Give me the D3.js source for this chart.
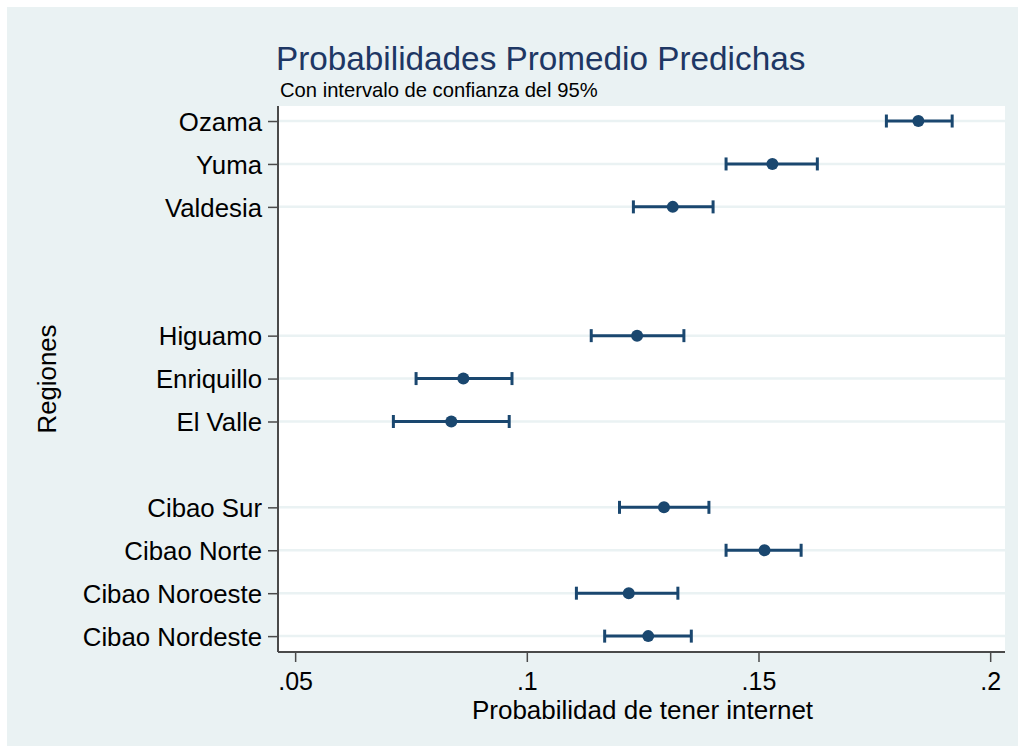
<!DOCTYPE html>
<html>
<head>
<meta charset="utf-8">
<script src="https://cdn.jsdelivr.net/npm/d3@7"></script>
<style>
  html, body { margin: 0; padding: 0; background: #ffffff; }
  svg { display: block; }
  text { font-family: "Liberation Sans", Arial, sans-serif; }
</style>
</head>
<body>
<svg id="chart" width="1018" height="746"></svg>
<script>
// Regions, their row codes on the y axis (gaps separate the macro-regions)
const regions  = ["Ozama", "Yuma", "Valdesia", "Higuamo", "Enriquillo", "El Valle",
                  "Cibao Sur", "Cibao Norte", "Cibao Noroeste", "Cibao Nordeste"];
const rowCodes = [1, 2, 3, 6, 7, 8, 10, 11, 12, 13];

// Average predicted probability and 95% confidence bounds
const margin   = [0.1845, 0.1530, 0.1315, 0.1238, 0.0863, 0.0837, 0.1296, 0.1513, 0.1220, 0.1262];
const ciLow    = [0.1776, 0.1430, 0.1230, 0.1139, 0.0761, 0.0712, 0.1200, 0.1430, 0.1107, 0.1168];
const ciHigh   = [0.1918, 0.1627, 0.1402, 0.1339, 0.0968, 0.0962, 0.1393, 0.1592, 0.1326, 0.1355];

const xTicks      = [0.05, 0.10, 0.15, 0.20];
const xTickLabels = [".05", ".1", ".15", ".2"];

const titleText    = "Probabilidades Promedio Predichas";
const subtitleText = "Con intervalo de confianza del 95%";
const xTitle       = "Probabilidad de tener internet";
const yTitle       = "Regiones";

const rows = regions.map((r, i) => ({
  region: r, code: rowCodes[i], est: margin[i], lo: ciLow[i], hi: ciHigh[i]
}));

const svg = d3.select("#chart");
const W = 1018, H = 746;
const plot = { left: 278, right: 1005, top: 106, bottom: 652 };

const navy = "#1a476f";
const bg   = "#eaf2f3";
const axisCol = "#4a4a4a";

// Graph background
svg.append("rect").attr("x", 7).attr("y", 7).attr("width", W - 7).attr("height", H - 7).attr("fill", bg);
// Plot region
svg.append("rect")
  .attr("x", plot.left).attr("y", plot.top)
  .attr("width", plot.right - plot.left).attr("height", plot.bottom - plot.top)
  .attr("fill", "#ffffff");

const x = d3.scaleLinear().domain([0.0463, 0.2032]).range([plot.left, plot.right]);
const y = d3.scaleLinear().domain([0.65, 13.37]).range([plot.top, plot.bottom]);

// Horizontal grid lines at each region row
svg.append("g").selectAll("line").data(rows).join("line")
  .attr("x1", plot.left).attr("x2", plot.right)
  .attr("y1", d => y(d.code)).attr("y2", d => y(d.code))
  .attr("stroke", bg).attr("stroke-width", 2.5);

// X axis
const xAxis = d3.axisBottom(x)
  .tickValues(xTicks)
  .tickFormat((d, i) => xTickLabels[i])
  .tickSize(10).tickSizeOuter(0).tickPadding(8);
const gx = svg.append("g").attr("transform", `translate(0,${plot.bottom})`).call(xAxis);
gx.select(".domain").attr("stroke", axisCol).attr("stroke-width", 2)
  .attr("d", `M${plot.left},0H${plot.right}`);
gx.selectAll(".tick line").attr("stroke", axisCol).attr("stroke-width", 1.5);
gx.selectAll(".tick text")
  .attr("font-size", 25).attr("fill", "#000")
  .attr("font-family", "'Liberation Sans', Arial, sans-serif")
  .attr("dy", null).attr("y", 38);

// Y axis with region labels
const yAxis = d3.axisLeft(y)
  .tickValues(rowCodes)
  .tickFormat((d, i) => regions[i])
  .tickSize(10).tickSizeOuter(0).tickPadding(6);
const gy = svg.append("g").attr("transform", `translate(${plot.left},0)`).call(yAxis);
gy.select(".domain").attr("stroke", axisCol).attr("stroke-width", 2)
  .attr("d", `M0,${plot.top}V${plot.bottom}`);
gy.selectAll(".tick line").attr("stroke", axisCol).attr("stroke-width", 1.5);
gy.selectAll(".tick text")
  .attr("font-size", 25.8).attr("fill", "#000")
  .attr("font-family", "'Liberation Sans', Arial, sans-serif")
  .attr("dy", "0.36em");

// Confidence intervals with caps
const ci = svg.append("g").attr("stroke", navy).attr("stroke-width", 3).attr("fill", "none");
ci.selectAll("line.span").data(rows).join("line").attr("class", "span")
  .attr("x1", d => x(d.lo)).attr("x2", d => x(d.hi))
  .attr("y1", d => y(d.code)).attr("y2", d => y(d.code));
ci.selectAll("line.capL").data(rows).join("line").attr("class", "capL")
  .attr("x1", d => x(d.lo)).attr("x2", d => x(d.lo))
  .attr("y1", d => y(d.code) - 6.5).attr("y2", d => y(d.code) + 6.5);
ci.selectAll("line.capH").data(rows).join("line").attr("class", "capH")
  .attr("x1", d => x(d.hi)).attr("x2", d => x(d.hi))
  .attr("y1", d => y(d.code) - 6.5).attr("y2", d => y(d.code) + 6.5);

// Point estimates
svg.append("g").selectAll("circle").data(rows).join("circle")
  .attr("cx", d => x(d.est)).attr("cy", d => y(d.code)).attr("r", 6)
  .attr("fill", navy);

// Titles
svg.append("text").attr("x", 276).attr("y", 70)
  .attr("font-size", 33.3).attr("fill", "#1e3764").text(titleText);
svg.append("text").attr("x", 280).attr("y", 97)
  .attr("font-size", 20.2).attr("fill", "#000").text(subtitleText);

// Axis titles
svg.append("text").attr("x", (plot.left + plot.right) / 2 + 1).attr("y", 719)
  .attr("text-anchor", "middle").attr("font-size", 26).attr("fill", "#000").text(xTitle);
svg.append("text")
  .attr("transform", `translate(56,${(plot.top + plot.bottom) / 2}) rotate(-90)`)
  .attr("text-anchor", "middle").attr("font-size", 25.8).attr("fill", "#000").text(yTitle);
</script>
</body>
</html>
